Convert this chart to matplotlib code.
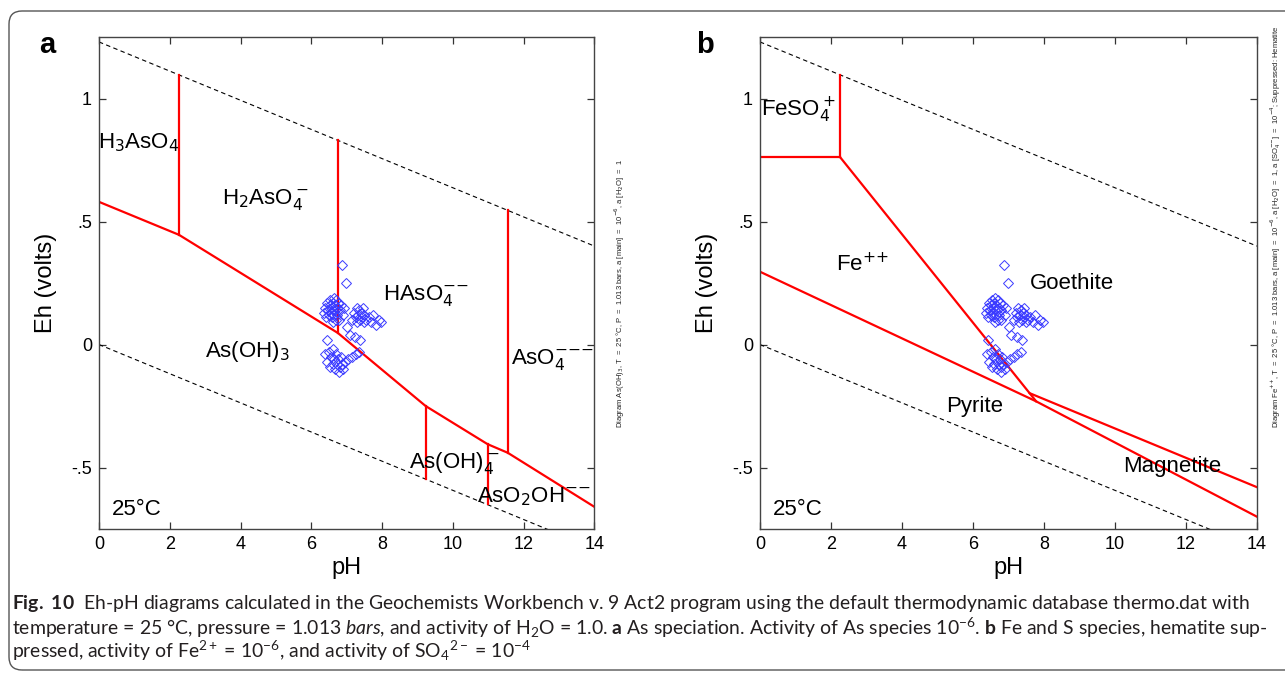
"""
Diagramas Eh-pH (As y Fe-S) con las muestras superpuestas, fig. 10.
Genera out.png
"""

import matplotlib
matplotlib.use("Agg")
import matplotlib.pyplot as plt
from matplotlib.patches import FancyBboxPatch
from matplotlib.transforms import IdentityTransform

# límites de estabilidad del agua (extremos)
water_top_ph = [0, 14]
water_top_eh = [1.23, 0.40]
water_bot_ph = [0, 14]
water_bot_eh = [0.0, -0.83]

# panel a: límites del sistema As
as_main_ph = [0, 2.26, 6.75, 9.23, 10.98, 11.55, 14]
as_main_eh = [0.58, 0.446, 0.047, -0.25, -0.405, -0.44, -0.66]
as_vert_ph = [2.26, 6.75, 11.55, 9.23, 10.98]
as_vert_top = [1.096, 0.83, 0.546, -0.25, -0.405]
as_vert_bot = [0.446, 0.047, -0.44, -0.546, -0.65]

as_labels = [r"H$_3$AsO$_4$", r"H$_2$AsO$_4^-$", r"HAsO$_4^{{-}{-}}$", r"AsO$_4^{{-}{-}{-}}$",
             r"As(OH)$_3$", r"As(OH)$_4^-$", r"AsO$_2$OH$^{{-}{-}}$"]
as_label_ph = [1.13, 4.7, 9.25, 12.8, 4.2, 10.05, 12.3]
as_label_eh = [0.82, 0.59, 0.20, -0.06, -0.03, -0.48, -0.62]

# panel b: límites del sistema Fe-S
feso4_h_ph = [0, 2.25]
feso4_h_eh = [0.763, 0.763]
feso4_v_ph = [2.25, 2.25]
feso4_v_eh = [1.097, 0.763]
fe_goe_ph = [2.25, 7.78]
fe_goe_eh = [0.763, -0.231]
goe_mag_ph = [7.6, 14]
goe_mag_eh = [-0.198, -0.58]
pyrite_ph = [0, 7.78, 14]
pyrite_eh = [0.296, -0.231, -0.70]

fe_labels = [r"FeSO$_4^+$", r"Fe$^{{+}{+}}$", "Goethite", "Pyrite", "Magnetite"]
fe_label_ph = [1.07, 2.87, 8.8, 6.06, 11.6]
fe_label_eh = [0.95, 0.325, 0.25, -0.25, -0.495]

# muestras (pH, Eh en voltios)
sample_ph = [
    6.87, 6.99,
    6.36, 6.40, 6.42, 6.45, 6.48, 6.50, 6.52, 6.54, 6.55, 6.57, 6.58, 6.60, 6.61, 6.63,
    6.64, 6.66, 6.68, 6.70, 6.72, 6.74, 6.76, 6.78, 6.80, 6.85, 6.90, 6.92, 6.62, 6.70,
    7.15, 7.20, 7.25, 7.28, 7.30, 7.33, 7.36, 7.38, 7.40, 7.43, 7.45, 7.48, 7.50, 7.55,
    7.62, 7.70, 7.75, 7.82, 7.90, 7.97,
    7.02, 7.08, 7.23, 7.37, 6.43,
    6.40, 6.45, 6.50, 6.53, 6.56, 6.60, 6.62, 6.65, 6.68, 6.70, 6.72, 6.75, 6.78, 6.80,
    6.83, 6.86, 6.90, 6.95, 7.05, 7.15, 7.25, 7.35,
]
sample_eh = [
    0.325, 0.25,
    0.13, 0.15, 0.11, 0.17, 0.14, 0.12, 0.16, 0.18, 0.13, 0.15, 0.11, 0.17, 0.14, 0.19,
    0.12, 0.16, 0.14, 0.18, 0.15, 0.12, 0.17, 0.10, 0.14, 0.16, 0.12, 0.15, 0.09, 0.10,
    0.10, 0.13, 0.11, 0.15, 0.09, 0.12, 0.14, 0.10, 0.13, 0.11, 0.15, 0.09, 0.12, 0.10,
    0.11, 0.09, 0.12, 0.08, 0.10, 0.09,
    0.07, 0.04, 0.03, 0.02, 0.02,
    -0.04, -0.07, -0.03, -0.09, -0.05, -0.08, -0.02, -0.06, -0.10, -0.04, -0.08, -0.06,
    -0.11, -0.09, -0.05, -0.08, -0.10, -0.07, -0.06, -0.05, -0.04, -0.03,
]

x_ticks = [0, 2, 4, 6, 8, 10, 12, 14]
y_ticks = [-0.5, 0, 0.5, 1]
y_tick_labels = ["-.5", "0", ".5", "1"]

info_a = (r"Diagram As(OH)$_3$, T  =  25 °C, P  =  1.013 bars, a [main]  =  10$^{-6}$, "
          r"a [H$_2$O]  =  1")
info_b = (r"Diagram Fe$^{{+}{+}}$, T  =  25 °C, P  =  1.013 bars, a [main]  =  10$^{-6}$, "
          r"a [H$_2$O]  =  1, a [SO$_4^{{-}{-}}$]  =  10$^{-4}$; Suppressed: Hematite")

caption = [
    r"$\bf{Fig.\ 10}$  Eh-pH diagrams calculated in the Geochemists Workbench v. 9 Act2 "
    r"program using the default thermodynamic database thermo.dat with",
    r"temperature = 25 °C, pressure = 1.013 $\it{bars}$, and activity of H$_2$O = 1.0. "
    r"$\bf{a}$ As speciation. Activity of As species 10$^{-6}$. $\bf{b}$ Fe and S species, "
    r"hematite sup-",
    r"pressed, activity of Fe$^{2+}$ = 10$^{-6}$, and activity of SO$_4$$^{2-}$ = 10$^{-4}$",
]

RED = "#ff0000"
BLUE = "#3a3aff"

plt.rcParams["font.family"] = ["Liberation Sans", "DejaVu Sans"]
plt.rcParams["mathtext.fontset"] = "custom"
plt.rcParams["mathtext.rm"] = "Lato"
plt.rcParams["mathtext.it"] = "Lato:italic"
plt.rcParams["mathtext.bf"] = "Lato:bold"


def setup_axes(ax):
    ax.set_xlim(0, 14)
    ax.set_ylim(-0.75, 1.25)
    ax.set_xticks(x_ticks)
    ax.set_yticks(y_ticks)
    ax.set_yticklabels(y_tick_labels)
    ax.tick_params(direction="in", top=True, right=True, length=5, width=0.9,
                   labelsize=13, color="#333333", pad=5)
    for s in ax.spines.values():
        s.set_color("#444444")
        s.set_linewidth(1.0)
    ax.set_xlabel("pH", fontsize=17, labelpad=3)
    ax.set_ylabel("Eh (volts)", fontsize=17, labelpad=10)
    ax.plot(water_top_ph, water_top_eh, color="black", lw=0.8, dashes=(4, 3))
    ax.plot(water_bot_ph, water_bot_eh, color="black", lw=0.8, dashes=(4, 3))


def draw_samples(ax):
    ax.plot(sample_ph, sample_eh, linestyle="none", marker="D", markersize=5.5,
            markerfacecolor="none", markeredgecolor=BLUE, markeredgewidth=0.7, zorder=5)


def label(ax, x, y, s, **kw):
    ax.text(x, y, s, fontsize=16, ha="center", va="center",
            math_fontfamily="dejavusans", **kw)


fig = plt.figure(figsize=(12.85, 6.74), dpi=100)

# ---------- panel a ----------
ax_a = fig.add_axes([0.0770, 0.2151, 0.3856, 0.7300])
setup_axes(ax_a)
ax_a.plot(as_main_ph, as_main_eh, color=RED, lw=1.6)
for x, y0, y1 in zip(as_vert_ph, as_vert_top, as_vert_bot):
    ax_a.plot([x, x], [y0, y1], color=RED, lw=1.6)
draw_samples(ax_a)
for s, x, y in zip(as_labels, as_label_ph, as_label_eh):
    label(ax_a, x, y, s)
label(ax_a, 1.07, -0.67, "25°C")

# ---------- panel b ----------
ax_b = fig.add_axes([0.5914, 0.2151, 0.3868, 0.7300])
setup_axes(ax_b)
for px, py in [(feso4_h_ph, feso4_h_eh), (feso4_v_ph, feso4_v_eh), (fe_goe_ph, fe_goe_eh),
               (goe_mag_ph, goe_mag_eh), (pyrite_ph, pyrite_eh)]:
    ax_b.plot(px, py, color=RED, lw=1.6)
draw_samples(ax_b)
for s, x, y in zip(fe_labels, fe_label_ph, fe_label_eh):
    label(ax_b, x, y, s)
label(ax_b, 1.07, -0.67, "25°C")

# letras de panel
fig.text(47 / 1285, 1 - 45 / 674, "a", fontsize=21, fontweight="bold", ha="center", va="center")
fig.text(705 / 1285, 1 - 45 / 674, "b", fontsize=21, fontweight="bold", ha="center", va="center")

# texto vertical con las condiciones del diagrama
fig.text(620 / 1285, 1 - 428 / 674, info_a, fontsize=5.5, rotation=90, ha="center",
         va="bottom", color="#222222", math_fontfamily="dejavusans")
fig.text(1276 / 1285, 1 - 428 / 674, info_b, fontsize=5.5, rotation=90, ha="center",
         va="bottom", color="#222222", math_fontfamily="dejavusans")

# pie de figura, ajustado al ancho de la línea más larga
cap_texts = []
for i, line in enumerate(caption):
    t = fig.text(12 / 1285, 1 - (604 + 23.5 * i) / 674, line, fontsize=13,
                 family="Lato", ha="left", va="center", color="#231f20")
    cap_texts.append(t)
renderer = fig.canvas.get_renderer()
w = max(t.get_window_extent(renderer).width for t in cap_texts[:2])
scale = 1256 / w
for t in cap_texts:
    t.set_fontsize(13 * scale)

# marco redondeado
frame = FancyBboxPatch((9, 4), 1320, 659, boxstyle="round,pad=0,rounding_size=13",
                       transform=IdentityTransform(), facecolor="none",
                       edgecolor="#555555", lw=1.0)
fig.patches.append(frame)

fig.savefig("out.png", dpi=100)
